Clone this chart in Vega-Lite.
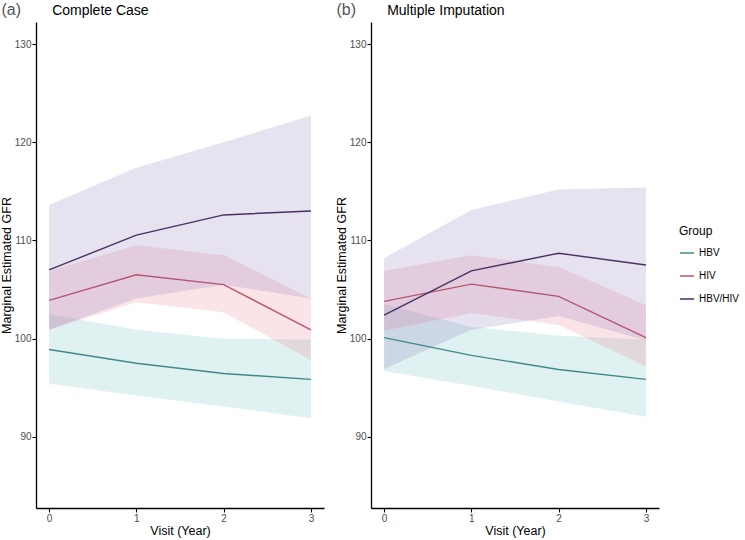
{
  "$schema": "https://vega.github.io/schema/vega-lite/v6.json",
  "padding": {"left": 0, "top": 1, "right": 4, "bottom": 1},
  "background": "white",
  "datasets": {
    "est": [
      {"panel": "Complete Case", "group": "HBV", "visit": 0, "est": 98.9, "lo": 95.4, "hi": 102.5},
      {"panel": "Complete Case", "group": "HBV", "visit": 1, "est": 97.5, "lo": 94.2, "hi": 100.9},
      {"panel": "Complete Case", "group": "HBV", "visit": 2, "est": 96.45, "lo": 93.1, "hi": 100.0},
      {"panel": "Complete Case", "group": "HBV", "visit": 3, "est": 95.85, "lo": 91.9, "hi": 99.9},
      {"panel": "Complete Case", "group": "HIV", "visit": 0, "est": 103.9, "lo": 100.9, "hi": 106.9},
      {"panel": "Complete Case", "group": "HIV", "visit": 1, "est": 106.5, "lo": 103.7, "hi": 109.5},
      {"panel": "Complete Case", "group": "HIV", "visit": 2, "est": 105.5, "lo": 102.7, "hi": 108.5},
      {"panel": "Complete Case", "group": "HIV", "visit": 3, "est": 100.9, "lo": 97.8, "hi": 104.1},
      {"panel": "Complete Case", "group": "HBV/HIV", "visit": 0, "est": 107.0, "lo": 100.9, "hi": 113.6},
      {"panel": "Complete Case", "group": "HBV/HIV", "visit": 1, "est": 110.55, "lo": 104.1, "hi": 117.4},
      {"panel": "Complete Case", "group": "HBV/HIV", "visit": 2, "est": 112.6, "lo": 105.5, "hi": 120.0},
      {"panel": "Complete Case", "group": "HBV/HIV", "visit": 3, "est": 113.0, "lo": 104.1, "hi": 122.7},
      {"panel": "Multiple Imputation", "group": "HBV", "visit": 0, "est": 100.1, "lo": 96.7, "hi": 103.5},
      {"panel": "Multiple Imputation", "group": "HBV", "visit": 1, "est": 98.3, "lo": 95.2, "hi": 101.2},
      {"panel": "Multiple Imputation", "group": "HBV", "visit": 2, "est": 96.85, "lo": 93.6, "hi": 100.3},
      {"panel": "Multiple Imputation", "group": "HBV", "visit": 3, "est": 95.85, "lo": 92.05, "hi": 99.9},
      {"panel": "Multiple Imputation", "group": "HIV", "visit": 0, "est": 103.8, "lo": 100.8, "hi": 106.9},
      {"panel": "Multiple Imputation", "group": "HIV", "visit": 1, "est": 105.55, "lo": 102.6, "hi": 108.5},
      {"panel": "Multiple Imputation", "group": "HIV", "visit": 2, "est": 104.3, "lo": 101.4, "hi": 107.3},
      {"panel": "Multiple Imputation", "group": "HIV", "visit": 3, "est": 100.1, "lo": 97.2, "hi": 103.4},
      {"panel": "Multiple Imputation", "group": "HBV/HIV", "visit": 0, "est": 102.4, "lo": 96.9, "hi": 108.2},
      {"panel": "Multiple Imputation", "group": "HBV/HIV", "visit": 1, "est": 106.9, "lo": 100.9, "hi": 113.1},
      {"panel": "Multiple Imputation", "group": "HBV/HIV", "visit": 2, "est": 108.7, "lo": 102.3, "hi": 115.2},
      {"panel": "Multiple Imputation", "group": "HBV/HIV", "visit": 3, "est": 107.5, "lo": 99.8, "hi": 115.4}
    ],
    "labels": [
      {"panel": "Complete Case", "tag": "(a)"},
      {"panel": "Multiple Imputation", "tag": "(b)"}
    ]
  },
  "config": {
    "font": "Liberation Sans",
    "view": {"stroke": null},
    "axis": {
      "grid": false,
      "domainColor": "black",
      "domainWidth": 1.3,
      "tickColor": "black",
      "tickWidth": 1.1,
      "tickSize": 4,
      "labelColor": "#4d4d4d",
      "labelFontSize": 10,
      "labelPadding": 1,
      "titleColor": "black",
      "titleFontSize": 12.5,
      "titleFontWeight": "normal"
    },
    "legend": {
      "titleFontSize": 12,
      "titleFontWeight": "normal",
      "titleColor": "black",
      "labelFontSize": 10,
      "labelColor": "black",
      "symbolType": "stroke",
      "symbolSize": 200,
      "symbolStrokeWidth": 1.5,
      "rowPadding": 10,
      "titlePadding": 7,
      "offset": 20,
      "layout": {"right": {"anchor": "middle"}}
    }
  },
  "spacing": 11,
  "hconcat": [
    {
      "width": 288,
      "height": 486,
      "layer": [
        {
          "data": {"name": "est"},
          "transform": [{"filter": "datum.panel == 'Complete Case'"}],
          "mark": {"type": "area", "opacity": 0.2},
          "encoding": {
            "x": {"field": "visit", "type": "quantitative", "scale": {"domain": [-0.15, 3.15], "nice": false, "zero": false}, "axis": {"values": [0, 1, 2, 3], "format": "d", "title": "Visit (Year)", "titlePadding": 1}},
            "y": {"field": "lo", "type": "quantitative", "scale": {"domain": [82.75, 132.25], "nice": false, "zero": false}, "axis": {"values": [90, 100, 110, 120, 130], "title": "Marginal Estimated GFR", "titlePadding": 1}},
            "y2": {"field": "hi"},
            "fill": {"field": "group", "type": "nominal", "scale": {"range": ["#64B9B9", "#826EB4", "#EB788C"]}, "legend": null}
          }
        },
        {
          "data": {"name": "est"},
          "transform": [{"filter": "datum.panel == 'Complete Case'"}],
          "mark": {"type": "line", "strokeWidth": 1.4},
          "encoding": {
            "x": {"field": "visit", "type": "quantitative"},
            "y": {"field": "est", "type": "quantitative"},
            "stroke": {"field": "group", "type": "nominal", "scale": {"domain": ["HBV", "HIV", "HBV/HIV"], "range": ["#3F8A88", "#B5576F", "#4A2F63"]}, "title": "Group"}
          }
        },
        {
          "data": {"name": "labels"},
          "transform": [{"filter": "datum.panel == 'Complete Case'"}],
          "mark": {"type": "text", "fontSize": 16, "color": "#555555", "align": "left", "baseline": "alphabetic"},
          "encoding": {"x": {"datum": -0.545}, "y": {"datum": 133.0}, "text": {"field": "tag"}}
        },
        {
          "data": {"name": "labels"},
          "transform": [{"filter": "datum.panel == 'Complete Case'"}],
          "mark": {"type": "text", "fontSize": 14, "color": "black", "align": "left", "baseline": "alphabetic"},
          "encoding": {"x": {"datum": 0.035}, "y": {"datum": 133.0}, "text": {"field": "panel"}}
        }
      ]
    },
    {
      "width": 288,
      "height": 486,
      "layer": [
        {
          "data": {"name": "est"},
          "transform": [{"filter": "datum.panel == 'Multiple Imputation'"}],
          "mark": {"type": "area", "opacity": 0.2},
          "encoding": {
            "x": {"field": "visit", "type": "quantitative", "scale": {"domain": [-0.15, 3.15], "nice": false, "zero": false}, "axis": {"values": [0, 1, 2, 3], "format": "d", "title": "Visit (Year)", "titlePadding": 1}},
            "y": {"field": "lo", "type": "quantitative", "scale": {"domain": [82.75, 132.25], "nice": false, "zero": false}, "axis": {"values": [90, 100, 110, 120, 130], "title": "Marginal Estimated GFR", "titlePadding": 1}},
            "y2": {"field": "hi"},
            "fill": {"field": "group", "type": "nominal", "scale": {"range": ["#64B9B9", "#826EB4", "#EB788C"]}, "legend": null}
          }
        },
        {
          "data": {"name": "est"},
          "transform": [{"filter": "datum.panel == 'Multiple Imputation'"}],
          "mark": {"type": "line", "strokeWidth": 1.4},
          "encoding": {
            "x": {"field": "visit", "type": "quantitative"},
            "y": {"field": "est", "type": "quantitative"},
            "stroke": {"field": "group", "type": "nominal", "scale": {"domain": ["HBV", "HIV", "HBV/HIV"], "range": ["#3F8A88", "#B5576F", "#4A2F63"]}, "title": "Group"}
          }
        },
        {
          "data": {"name": "labels"},
          "transform": [{"filter": "datum.panel == 'Multiple Imputation'"}],
          "mark": {"type": "text", "fontSize": 16, "color": "#555555", "align": "left", "baseline": "alphabetic"},
          "encoding": {"x": {"datum": -0.545}, "y": {"datum": 133.0}, "text": {"field": "tag"}}
        },
        {
          "data": {"name": "labels"},
          "transform": [{"filter": "datum.panel == 'Multiple Imputation'"}],
          "mark": {"type": "text", "fontSize": 14, "color": "black", "align": "left", "baseline": "alphabetic"},
          "encoding": {"x": {"datum": 0.035}, "y": {"datum": 133.0}, "text": {"field": "panel"}}
        }
      ]
    }
  ]
}
